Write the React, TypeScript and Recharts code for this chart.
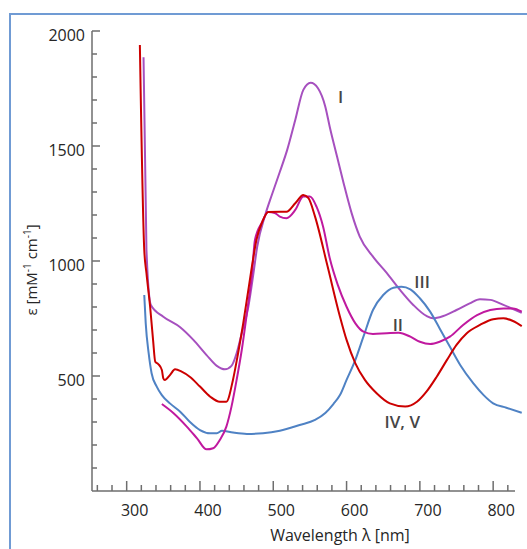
import React from 'react';
import { LineChart, Line, XAxis, YAxis, ReferenceLine, ReferenceDot, Label } from 'recharts';

// Curve I
const wavelengthI = [323, 327, 333, 350, 373, 391, 409, 423, 434, 443, 450, 457, 466, 473, 478, 489, 498, 509, 519, 530, 541, 551, 561, 571, 577, 587, 596, 607, 618, 636, 655, 673, 691, 709, 718, 732, 750, 768, 782, 796, 814, 839];
const epsI = [1886, 1048, 809, 758, 712, 657, 591, 544, 529, 544, 599, 686, 801, 947, 1061, 1200, 1287, 1388, 1483, 1613, 1744, 1775, 1751, 1671, 1584, 1454, 1338, 1207, 1106, 1019, 947, 874, 809, 761, 751, 761, 787, 816, 834, 831, 809, 775];

// Curve II
const wavelengthII = [348, 364, 382, 396, 409, 418, 427, 436, 443, 450, 457, 464, 471, 475, 485, 493, 502, 509, 518, 530, 541, 550, 559, 568, 577, 588, 600, 612, 623, 636, 655, 671, 687, 700, 714, 727, 741, 759, 778, 796, 814, 827, 839];
const epsII = [378, 338, 280, 229, 181, 186, 222, 280, 367, 483, 613, 773, 947, 1091, 1170, 1213, 1209, 1193, 1186, 1222, 1280, 1280, 1236, 1149, 1013, 896, 801, 729, 693, 683, 686, 688, 671, 649, 639, 649, 671, 722, 765, 787, 794, 794, 780];

// Curve III
const wavelengthIII = [324, 326, 330, 334, 341, 348, 359, 373, 386, 400, 414, 423, 430, 445, 464, 486, 509, 536, 557, 571, 582, 591, 600, 612, 623, 636, 650, 664, 675, 687, 700, 714, 727, 741, 755, 773, 787, 800, 818, 839];
const epsIII = [852, 729, 599, 512, 454, 417, 381, 345, 301, 265, 251, 251, 262, 254, 248, 251, 262, 287, 309, 339, 378, 417, 483, 570, 671, 787, 852, 884, 888, 877, 838, 780, 707, 627, 548, 468, 417, 381, 362, 340];

// Curve IV, V
const wavelengthIV = [318, 324, 327, 332, 336, 339, 343, 348, 350, 352, 359, 366, 375, 386, 400, 414, 427, 436, 445, 452, 459, 466, 473, 477, 485, 493, 509, 518, 530, 541, 548, 557, 574, 591, 600, 612, 625, 641, 659, 680, 696, 709, 723, 737, 750, 764, 782, 800, 814, 827, 839];
const epsIV = [1939, 1048, 947, 801, 657, 562, 552, 526, 490, 483, 504, 529, 519, 497, 454, 410, 388, 388, 483, 599, 729, 874, 1019, 1091, 1170, 1213, 1214, 1214, 1251, 1287, 1273, 1193, 978, 758, 657, 555, 483, 425, 381, 367, 388, 432, 497, 570, 635, 686, 722, 747, 751, 739, 717];

const xTicks = [260, 280, 300, 320, 340, 360, 380, 400, 420, 440, 460, 480, 500, 520, 540, 560, 580, 600, 620, 640, 660, 680, 700, 720, 740, 760, 780, 800, 820];
const yTicks = [100, 200, 300, 400, 500, 600, 700, 800, 900, 1000, 1100, 1200, 1300, 1400, 1500, 1600, 1700, 1800, 1900, 2000];

const curveLabelText = ['I', 'III', 'II', 'IV, V'];
const curveLabelX = [592, 703, 670, 676];
const curveLabelY = [1717, 913, 726, 304];

const toPoints = (xs: number[], ys: number[]) => xs.map((x, i) => ({ x, y: ys[i] }));
const dataI = toPoints(wavelengthI, epsI);
const dataII = toPoints(wavelengthII, epsII);
const dataIII = toPoints(wavelengthIII, epsIII);
const dataIV = toPoints(wavelengthIV, epsIV);

const FONT = '"Open Sans", sans-serif';
const AXIS = '#6e6e6e';

const XTick = (props: any) => {
  const { x, y, payload } = props;
  const major = payload.value % 100 === 0;
  return (
    <g>
      <line x1={x} y1={y} x2={x} y2={y - (major ? 10 : 6)} stroke={AXIS} strokeWidth={1.5} />
      {major && (
        <text x={x + 8} y={y + 25} textAnchor="middle" fontSize={16} fontFamily={FONT} fill="#262626">
          {payload.value}
        </text>
      )}
    </g>
  );
};

const YTick = (props: any) => {
  const { x, y, payload } = props;
  const major = payload.value % 500 === 0;
  return (
    <g>
      <line x1={x} y1={y} x2={x + (major ? 8 : 5)} y2={y} stroke={AXIS} strokeWidth={1.5} />
      {major && (
        <text x={x - 7} y={y + 10} textAnchor="end" fontSize={16} fontFamily={FONT} fill="#262626">
          {payload.value}
        </text>
      )}
    </g>
  );
};

const LabelShape = (text: string) => (props: any) => (
  <text
    x={props.cx}
    y={props.cy}
    textAnchor="middle"
    dominantBaseline="central"
    fontSize={17}
    fontWeight={600}
    fontFamily={FONT}
    fill="#454545"
  >
    {text}
  </text>
);

export default function App() {
  return (
    <div style={{ position: 'absolute', left: 0, top: 0, width: 527, height: 549, overflow: 'hidden', background: '#fff' }}>
      <div
        style={{
          position: 'absolute',
          left: 9,
          top: 13,
          width: 518,
          height: 536,
          boxSizing: 'border-box',
          borderTop: '2px solid #709bd4',
          borderLeft: '2px solid #709bd4',
        }}
      />
      <div style={{ position: 'absolute', left: 0, top: 0 }}>
        <LineChart width={527} height={549} margin={{ top: 31, right: 4, bottom: 0, left: 0 }}>
          <XAxis
            type="number"
            dataKey="x"
            domain={[252.7, 840.7]}
            ticks={xTicks}
            interval={0}
            axisLine={false}
            tickLine={false}
            tickSize={0}
            tickMargin={0}
            tick={<XTick />}
            height={58}
            allowDataOverflow
          >
            <Label
              content={() => (
                <text x={340} y={541} textAnchor="middle" fontSize={16} fontFamily={FONT} fill="#262626">
                  Wavelength λ [nm]
                </text>
              )}
            />
          </XAxis>
          <YAxis
            type="number"
            dataKey="y"
            domain={[0, 2000]}
            ticks={yTicks}
            interval={0}
            width={92}
            axisLine={{ stroke: AXIS, strokeWidth: 1.5 }}
            tickLine={false}
            tickSize={0}
            tickMargin={0}
            tick={<YTick />}
            allowDataOverflow
          >
            <Label
              content={() => (
                <text
                  x={37}
                  y={270}
                  textAnchor="middle"
                  fontSize={15}
                  fontFamily={FONT}
                  fill="#262626"
                  transform="rotate(-90, 37, 270)"
                >
                  <tspan>ε [mM</tspan>
                  <tspan dy={-6} fontSize={10}>-1</tspan>
                  <tspan dy={6}> cm</tspan>
                  <tspan dy={-6} fontSize={10}>-1</tspan>
                  <tspan dy={6}>]</tspan>
                </text>
              )}
            />
          </YAxis>
          <ReferenceLine
            segment={[{ x: 252.7, y: 0 }, { x: 829.8, y: 0 }]}
            stroke={AXIS}
            strokeWidth={1.5}
            ifOverflow="visible"
          />
          <Line data={dataI} dataKey="y" type="monotone" stroke="#a650bf" strokeWidth={2} dot={false} isAnimationActive={false} />
          <Line data={dataIII} dataKey="y" type="monotone" stroke="#4f82c4" strokeWidth={2} dot={false} isAnimationActive={false} />
          <Line data={dataII} dataKey="y" type="monotone" stroke="#c0199f" strokeWidth={2} dot={false} isAnimationActive={false} />
          <Line data={dataIV} dataKey="y" type="monotone" stroke="#cc0000" strokeWidth={2} dot={false} isAnimationActive={false} />
          {curveLabelText.map((t, i) => (
            <ReferenceDot key={t} x={curveLabelX[i]} y={curveLabelY[i]} r={0} ifOverflow="visible" shape={LabelShape(t)} />
          ))}
        </LineChart>
      </div>
    </div>
  );
}
